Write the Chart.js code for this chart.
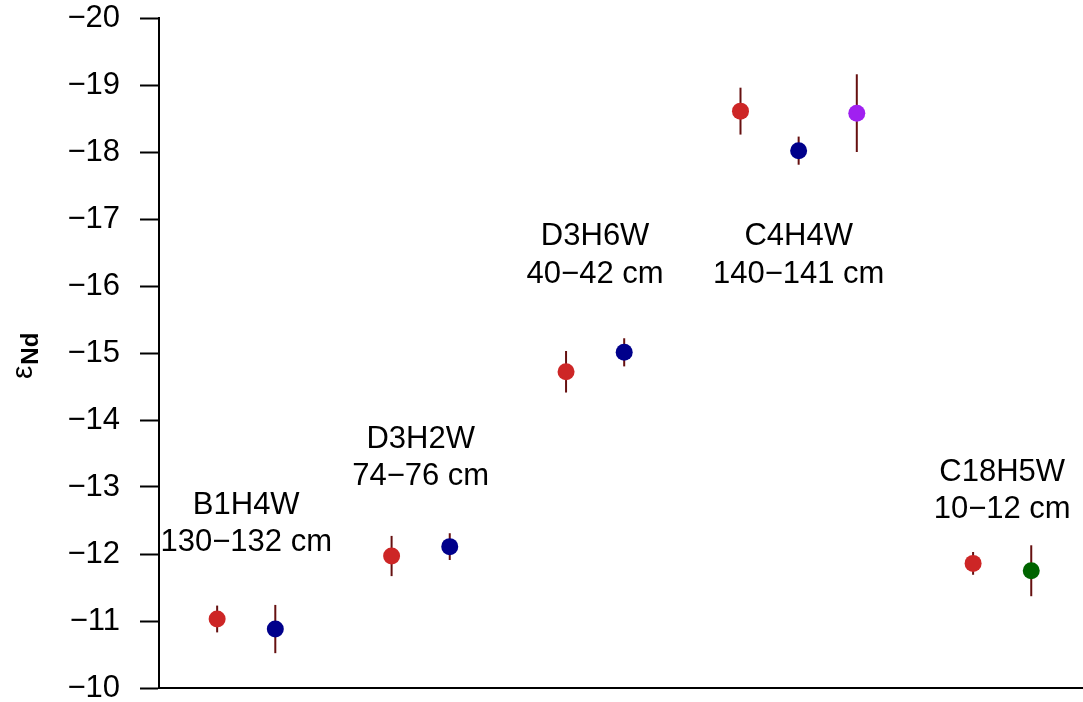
<!DOCTYPE html>
<html>
<head>
<meta charset="utf-8">
<title>εNd by core and depth</title>
<script src="https://cdn.jsdelivr.net/npm/chart.js@4.4.1/dist/chart.umd.min.js"></script>
<style>
  html, body { margin: 0; padding: 0; background: #fff; }
  canvas { display: block; }
</style>
</head>
<body>
<canvas id="chart" width="1083" height="702"></canvas>
<script>
// Sample positions along the x axis (pairs / triples per core section)
const samplePos = [1, 2, 4, 5, 7, 8, 10, 11, 12, 14, 15];
// εNd values and their 2σ uncertainties
const epsNd = [-11.03, -10.88, -11.97, -12.11, -14.72, -15.01, -18.61, -18.02, -18.58, -11.86, -11.75];
const epsErr = [0.20, 0.36, 0.30, 0.20, 0.31, 0.21, 0.35, 0.21, 0.58, 0.17, 0.38];
const pointColors = ['#cd2626', '#00008b', '#cd2626', '#00008b', '#cd2626', '#00008b',
                     '#cd2626', '#00008b', '#a020f0', '#cd2626', '#006400'];

// Core section labels: name, depth interval, position
const coreNames = ['B1H4W', 'D3H2W', 'D3H6W', 'C4H4W', 'C18H5W'];
const coreDepths = ['130\u2212132 cm', '74\u221276 cm', '40\u221242 cm', '140\u2212141 cm', '10\u221212 cm'];
const labelPos = [1.5, 4.5, 7.5, 11, 14.5];
const labelVal = [-12.48, -13.47, -16.49, -16.49, -12.97];

// y axis ticks
const yTicks = [-10, -11, -12, -13, -14, -15, -16, -17, -18, -19, -20];

const FONT = '"Liberation Sans", Arial, sans-serif';

const errorBars = {
  id: 'errorBars',
  beforeDatasetsDraw(chart) {
    const { ctx, scales: { x, y } } = chart;
    ctx.save();
    ctx.strokeStyle = '#661010';
    ctx.lineWidth = 2;
    samplePos.forEach((p, i) => {
      const px = x.getPixelForValue(p);
      ctx.beginPath();
      ctx.moveTo(px, y.getPixelForValue(epsNd[i] - epsErr[i]));
      ctx.lineTo(px, y.getPixelForValue(epsNd[i] + epsErr[i]));
      ctx.stroke();
    });
    ctx.restore();
  }
};

const coreLabels = {
  id: 'coreLabels',
  afterDatasetsDraw(chart) {
    const { ctx, scales: { x, y } } = chart;
    ctx.save();
    ctx.fillStyle = '#000';
    ctx.font = '31px ' + FONT;
    ctx.textAlign = 'center';
    ctx.textBaseline = 'alphabetic';
    coreNames.forEach((name, i) => {
      const px = x.getPixelForValue(labelPos[i]);
      const py = y.getPixelForValue(labelVal[i]);
      ctx.fillText(name, px, py - 7.7);
      ctx.fillText(coreDepths[i], px, py + 29.4);
    });
    ctx.restore();
  }
};

// y axis title: epsilon with bold "Nd" subscript, rotated
const yTitle = {
  id: 'yTitle',
  afterDraw(chart) {
    const { ctx } = chart;
    ctx.save();
    ctx.translate(32, 379);
    ctx.rotate(-Math.PI / 2);
    ctx.fillStyle = '#000';
    ctx.textAlign = 'left';
    ctx.textBaseline = 'alphabetic';
    ctx.font = '30px ' + FONT;
    ctx.fillText('\u03b5', 0, 0);
    const w = ctx.measureText('\u03b5').width;
    ctx.font = 'bold 24px ' + FONT;
    ctx.fillText('Nd', w + 1, 6);
    ctx.restore();
  }
};

new Chart(document.getElementById('chart'), {
  type: 'scatter',
  data: {
    datasets: [{
      data: samplePos.map((p, i) => ({ x: p, y: epsNd[i] })),
      backgroundColor: pointColors,
      pointRadius: 8.5,
      pointHoverRadius: 8.5,
      borderWidth: 0
    }]
  },
  options: {
    responsive: false,
    animation: false,
    events: [],
    layout: { autoPadding: false, padding: { top: 18, right: 0, bottom: 0, left: 0 } },
    plugins: { legend: { display: false }, tooltip: { enabled: false } },
    scales: {
      x: {
        type: 'linear',
        min: 0,
        max: 15.89,
        ticks: { display: false },
        grid: { display: false },
        border: { display: true, color: '#000', width: 2 },
        afterFit(scale) {
          scale.height = 14;
          scale.paddingLeft = 0;
          scale.paddingRight = 0;
        }
      },
      y: {
        type: 'linear',
        min: -20,
        max: -10,
        reverse: true,
        afterBuildTicks(scale) { scale.ticks = yTicks.map(v => ({ value: v })); },
        ticks: {
          color: '#000',
          font: { family: FONT, size: 31 },
          padding: 20,
          callback: v => '\u2212' + Math.abs(v)
        },
        grid: {
          drawOnChartArea: false,
          drawTicks: true,
          tickLength: 19,
          tickColor: '#000',
          tickWidth: 2
        },
        border: { display: true, color: '#000', width: 2 },
        afterFit(scale) {
          scale.width = 159;
          scale.paddingTop = 0;
          scale.paddingBottom = 0;
        }
      }
    }
  },
  plugins: [errorBars, coreLabels, yTitle]
});
</script>
</body>
</html>
